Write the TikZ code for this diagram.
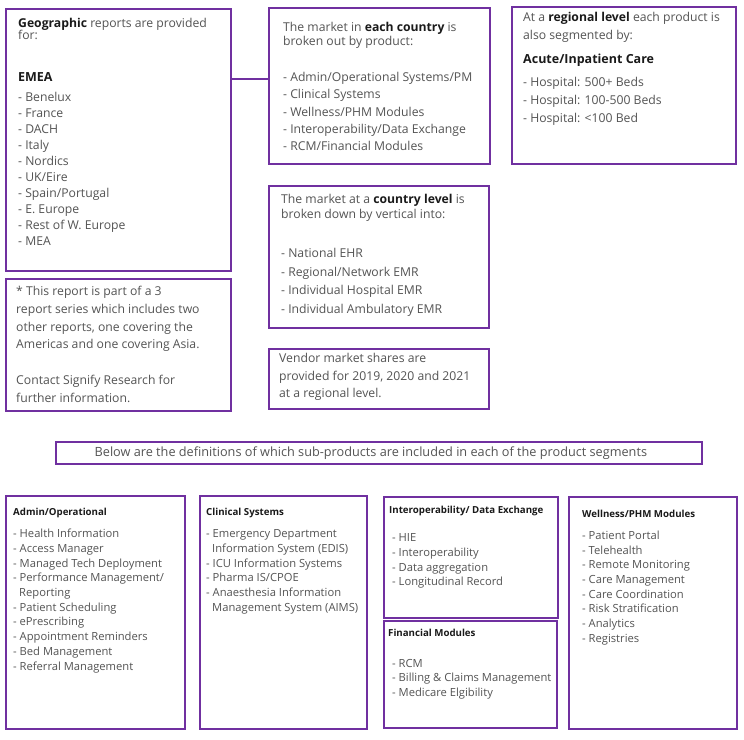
\documentclass[tikz,border=0pt]{standalone}
\usepackage{fontspec}
\setmainfont{Open Sans}
\definecolor{boxpurple}{HTML}{7030A0}
\definecolor{bodygray}{HTML}{545454}
\definecolor{headblack}{HTML}{1A1A1A}
\begin{document}
\begin{tikzpicture}[x=1pt,y=-1pt,
  box/.style={draw=boxpurple, line width=1.7pt, inner sep=0pt, anchor=north west},
  txt/.style={anchor=base west, inner sep=0pt, align=left, text=bodygray},
  big/.style={txt, font=\fontsize{12.2}{17}\selectfont},
  small/.style={txt, font=\fontsize{11.2}{14.67}\selectfont},
  head/.style={txt, text=headblack, font=\fontsize{12.5}{15}\selectfont\bfseries},
  subhead/.style={txt, text=headblack, font=\fontsize{9.7}{14}\selectfont\bfseries},
  link/.style={draw=boxpurple, line width=1.7pt}]
\useasboundingbox[fill=white] (0,0) rectangle (744,739);

% ---------- boxes ----------
\node[box, minimum width=225pt, minimum height=262pt] (geo) at (5,8) {};
\node[box, minimum width=221pt, minimum height=156pt] (mkt) at (268,7) {};
\node[box, minimum width=224pt, minimum height=157pt] (reg) at (511,6) {};
\node[box, minimum width=220pt, minimum height=142pt] (cty) at (268,185) {};
\node[box, minimum width=220pt, minimum height=60pt] (ven) at (268,348) {};
\node[box, minimum width=225pt, minimum height=132pt] (note) at (5,278) {};
\node[box, minimum width=646pt, minimum height=22pt] (ban) at (55,441) {};
\node[box, minimum width=179pt, minimum height=233pt] (adm) at (5,495) {};
\node[box, minimum width=167pt, minimum height=233pt] (cli) at (199,495) {};
\node[box, minimum width=174pt, minimum height=121pt] (int) at (383,496) {};
\node[box, minimum width=173pt, minimum height=107pt] (fin) at (383,620) {};
\node[box, minimum width=168pt, minimum height=232pt] (wel) at (568,496) {};

% ---------- connector ----------
\coordinate (lk) at (0,79);
\draw[link] (geo.east |- lk) -- (mkt.west |- lk);

% ---------- box A ----------
\node[big, font=\fontsize{12.2}{12.4}\selectfont] (geoT) at (18,39.7)
  {\textcolor{headblack}{\textbf{Geographic}} reports are provided\\for:};
\node[head] (emea) at (18,81.3) {EMEA};
\node[big, font=\fontsize{12.2}{16.07}\selectfont] (geoL) at (18,245.8)
  {- Benelux\\- France\\- DACH\\- Italy\\- Nordics\\- UK/Eire\\- Spain/Portugal\\- E. Europe\\- Rest of W. Europe\\- MEA};

% ---------- box B ----------
\node[big, font=\fontsize{12.2}{14}\selectfont] (mktT) at (283,45.2)
  {The market in \textcolor{headblack}{\textbf{each country}} is\\broken out by product:};
\node[big, font=\fontsize{12.2}{17.1}\selectfont] (mktL) at (283,150.2)
  {- Admin/Operational Systems/PM\\- Clinical Systems\\- Wellness/PHM Modules\\- Interoperability/Data Exchange\\- RCM/Financial Modules};

% ---------- box C ----------
\node[big, font=\fontsize{12.2}{18.3}\selectfont] (regT) at (523,39.5)
  {At a \textcolor{headblack}{\textbf{regional level}} each product is\\also segmented by:};
\node[head] (acute) at (523,63.5) {Acute/Inpatient Care};
\node[big, font=\fontsize{12.2}{18.3}\selectfont] (regL) at (523,122.8)
  {- Hospital: 500+ Beds\\- Hospital: 100-500 Beds\\- Hospital: <100 Bed};

% ---------- box D ----------
\node[big, font=\fontsize{12.2}{15}\selectfont] (ctyT) at (281,218.3)
  {The market at a \textcolor{headblack}{\textbf{country level}} is\\broken down by vertical into:};
\node[big, font=\fontsize{12.2}{18.8}\selectfont] (ctyL) at (281,313.6)
  {- National EHR\\- Regional/Network EMR\\- Individual Hospital EMR\\- Individual Ambulatory EMR};

% ---------- box E ----------
\node[big, font=\fontsize{12.2}{17.5}\selectfont] (venT) at (279,397.8)
  {Vendor market shares are\\provided for 2019, 2020 and 2021\\at a regional level.};

% ---------- box F ----------
\node[big, font=\fontsize{12.2}{17.67}\selectfont] (noteT) at (16,402)
  {* This report is part of a 3\\report series which includes two\\other reports, one covering the\\Americas and one covering Asia.\\[17.67pt]Contact Signify Research for\\further information.};

% ---------- banner ----------
\node[txt, anchor=center, font=\fontsize{12.7}{14}\selectfont] (banT) at ([xshift=-8pt]ban.center)
  {Below are the definitions of which sub-products are included in each of the product segments};

% ---------- bottom boxes ----------
\node[subhead] (admH) at (13,515) {Admin/Operational};
\node[small] (admL) at (13,670)
  {- Health Information\\- Access Manager\\- Managed Tech Deployment\\- Performance Management/\\\hspace*{6pt}Reporting\\- Patient Scheduling\\- ePrescribing\\- Appointment Reminders\\- Bed Management\\- Referral Management};

\node[subhead] (cliH) at (206,515) {Clinical Systems};
\node[small] (cliL) at (206,611.3)
  {- Emergency Department\\\hspace*{6pt}Information System (EDIS)\\- ICU Information Systems\\- Pharma IS/CPOE\\- Anaesthesia Information\\\hspace*{6pt}Management System (AIMS)};

\node[subhead] (intH) at (389,513.3) {Interoperability/ Data Exchange};
\node[small] (intL) at (392,585.7)
  {- HIE\\- Interoperability\\- Data aggregation\\- Longitudinal Record};

\node[subhead] (finH) at (388,636.7) {Financial Modules};
\node[small] (finL) at (392,696.6)
  {- RCM\\- Billing \& Claims Management\\- Medicare Elgibility};

\node[subhead] (welH) at (582,517.3) {Wellness/PHM Modules};
\node[small] (welL) at (582,642.3)
  {- Patient Portal\\- Telehealth\\- Remote Monitoring\\- Care Management\\- Care Coordination\\- Risk Stratification\\- Analytics\\- Registries};
\end{tikzpicture}
\end{document}
